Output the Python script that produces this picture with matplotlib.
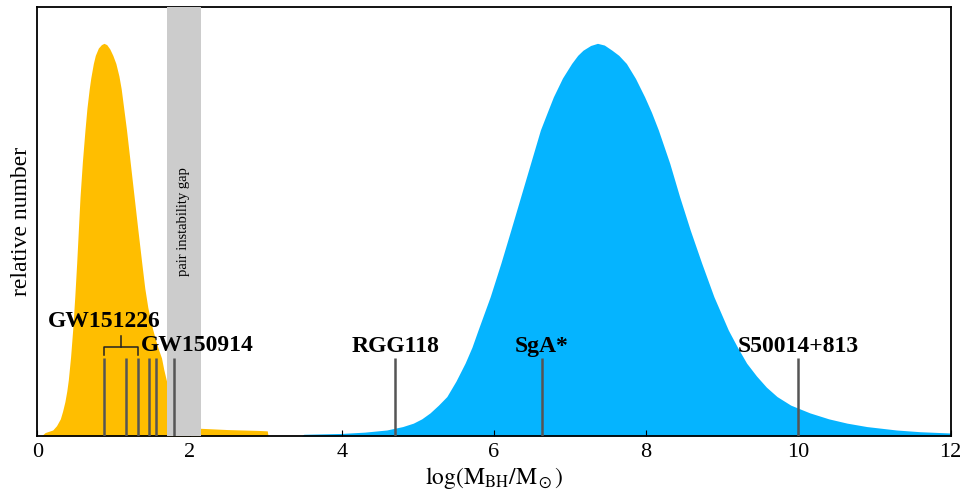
"""
Black hole mass distributions: stellar-mass vs supermassive
"""

import matplotlib.pyplot as plt
import numpy as np

plt.rcParams['font.family'] = ['Liberation Serif', 'DejaVu Serif']
plt.rcParams['mathtext.fontset'] = 'stix'

# stellar-mass black holes (log mass, relative number)
stellar_x = [0.05, 0.1, 0.2, 0.25, 0.3, 0.33, 0.36, 0.385, 0.405, 0.435, 0.462, 0.49, 0.515,
             0.559, 0.59, 0.624, 0.65, 0.68, 0.70, 0.734, 0.76, 0.8, 0.84, 0.874, 0.91, 0.95,
             0.99, 1.03, 1.07, 1.1, 1.17, 1.22, 1.27, 1.32, 1.37, 1.41, 1.45, 1.50, 1.55, 1.59,
             1.63, 1.66, 1.70, 1.8, 1.95, 2.14, 2.5, 2.9, 3.02, 3.03]
stellar_y = [0.0, 0.008, 0.014, 0.024, 0.04, 0.058, 0.08, 0.105, 0.131, 0.185, 0.247, 0.325, 0.404,
             0.558, 0.64, 0.714, 0.765, 0.81, 0.835, 0.869, 0.888, 0.905, 0.913, 0.916, 0.913, 0.903,
             0.888, 0.869, 0.84, 0.81, 0.714, 0.636, 0.558, 0.48, 0.404, 0.345, 0.30, 0.258, 0.225, 0.202,
             0.182, 0.155, 0.125, 0.07, 0.035, 0.018, 0.015, 0.013, 0.012, 0.0]

# supermassive black holes
smbh_x = [3.47, 3.5, 4.0, 4.3, 4.59, 4.8, 4.94, 5.05, 5.16, 5.27, 5.38, 5.5, 5.62, 5.71, 5.79,
          5.87, 5.95, 6.09, 6.22, 6.35, 6.48, 6.61, 6.70, 6.78, 6.9, 7.02, 7.1, 7.17, 7.27, 7.36,
          7.45, 7.55, 7.64, 7.74, 7.86, 7.98, 8.07, 8.16, 8.31, 8.44, 8.58, 8.73, 8.89, 9.08, 9.2,
          9.32, 9.45, 9.58, 9.72, 9.9, 10.15, 10.4, 10.64, 10.9, 11.29, 11.6, 12.0]
smbh_y = [0.0, 0.004, 0.006, 0.009, 0.014, 0.022, 0.03, 0.04, 0.054, 0.072, 0.092, 0.128, 0.17,
          0.207, 0.247, 0.286, 0.325, 0.403, 0.48, 0.558, 0.636, 0.714, 0.755, 0.791, 0.835, 0.869,
          0.888, 0.90, 0.911, 0.916, 0.912, 0.90, 0.888, 0.869, 0.834, 0.791, 0.755, 0.714, 0.636,
          0.558, 0.48, 0.403, 0.325, 0.247, 0.207, 0.17, 0.14, 0.114, 0.092, 0.072, 0.054, 0.04,
          0.03, 0.022, 0.014, 0.01, 0.007]

# pair instability gap
gap = [1.70, 2.145]

# observed gravitational wave events
gw_masses = [0.874, 1.159, 1.325, 1.465, 1.557, 1.794]

# named objects
obj_names = ['RGG118', 'SgA*', 'S50014+813']
obj_masses = [4.70, 6.63, 10.0]

fig = plt.figure(figsize=(9.64, 4.95), dpi=100)
ax = fig.add_axes([0.0389, 0.1192, 0.9471, 0.8660])

ax.fill_between(stellar_x, 0, stellar_y, color='#FFBE00', lw=0, zorder=1)
ax.fill_between(smbh_x, 0, smbh_y, color='#05B4FF', lw=0, zorder=1)

ax.axvspan(gap[0], gap[1], color='#CCCCCC', lw=0, zorder=3)
ax.text(np.mean(gap), 0.5, 'pair instability gap', rotation=90, ha='center', va='center',
        fontsize=10.5, zorder=4)

line_top = 0.182
ax.vlines(gw_masses, 0, line_top, color='#555555', lw=1.8, zorder=5)
ax.vlines(obj_masses, 0, line_top, color='#555555', lw=1.8, zorder=5)

# bracket over the first three GW151226-like events
bl, br = gw_masses[0], gw_masses[2]
bc = (bl + br) / 2
ax.plot([bl, bl, br, br], [0.189, 0.207, 0.207, 0.189], color='#222222', lw=1.1, zorder=5)
ax.plot([bc, bc], [0.207, 0.233], color='#222222', lw=1.1, zorder=5)

ax.text(gw_masses[0], 0.255, 'GW151226', ha='center', va='baseline', fontsize=17,
        fontweight='bold', zorder=6)
ax.text(1.36, 0.198, 'GW150914', ha='left', va='baseline', fontsize=17,
        fontweight='bold', zorder=6)
for name, m in zip(obj_names, obj_masses):
    ax.text(m, 0.196, name, ha='center', va='baseline', fontsize=17, fontweight='bold', zorder=6)

ax.set_xlim(0, 12)
ax.set_ylim(0, 1)
ax.set_xticks(np.arange(0, 13, 2))
ax.set_yticks([])
ax.tick_params(axis='x', direction='in', length=4, width=0.8, labelsize=16, pad=5)
for s in ax.spines.values():
    s.set_linewidth(1.3)

ax.set_xlabel(r'$\log(\mathrm{M}_{\mathrm{BH}}/\mathrm{M}_\odot)$', fontsize=17, labelpad=2)
ax.set_ylabel('relative number', fontsize=17, labelpad=4)

fig.savefig('out.png', dpi=100)
